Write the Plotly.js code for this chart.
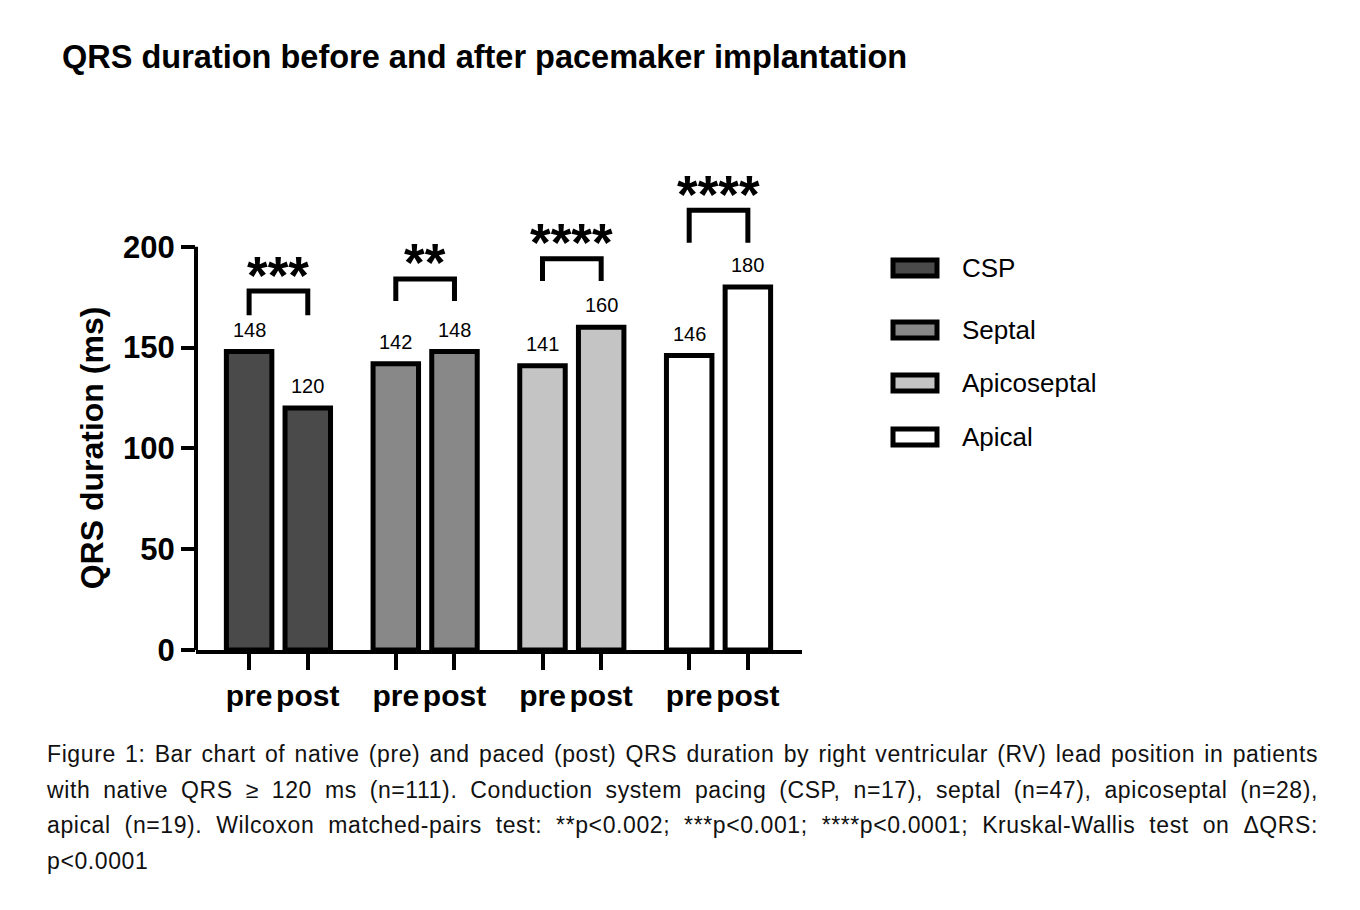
<!DOCTYPE html>
<html>
<head>
<meta charset="utf-8">
<script src="https://cdn.plot.ly/plotly-3.0.1.min.js"></script>
<style>
  body { margin: 0; background: #fff; }
  #wrap { position: relative; width: 1360px; height: 910px; }
  #chart { width: 1360px; height: 910px; }
  #caption {
    position: absolute; left: 47px; top: 737px; width: 1271px;
    font-family: "Liberation Sans", Arial, sans-serif; font-size: 23px;
    letter-spacing: 0.6px; line-height: 35.5px; color: #111;
  }
  #caption div { text-align: justify; text-align-last: justify; white-space: nowrap; }
  #caption div.last { text-align-last: left; }
</style>
</head>
<body>
<div id="wrap">
  <div id="chart"></div>
  <div id="caption">
    <div>Figure 1: Bar chart of native (pre) and paced (post) QRS duration by right ventricular (RV) lead position in patients</div>
    <div>with native QRS ≥ 120 ms (n=111). Conduction system pacing (CSP, n=17), septal (n=47), apicoseptal (n=28),</div>
    <div>apical (n=19). Wilcoxon matched-pairs test: **p&lt;0.002; ***p&lt;0.001; ****p&lt;0.0001; Kruskal-Wallis test on ΔQRS:</div>
    <div class="last">p&lt;0.0001</div>
  </div>
</div>
<script>
// values
const groups = ['CSP', 'Septal', 'Apicoseptal', 'Apical'];
const preQRS = [148, 142, 141, 146];
const postQRS = [120, 148, 160, 180];
const phaseLabels = ['pre', 'post'];
const sigLabels = ['***', '**', '****', '****'];
const fillColors = ['#4a4a4a', '#888888', '#c4c4c4', '#ffffff'];
// bracket levels in ms
const bracketTop = [178, 184, 194, 218];
const bracketFoot = [166, 173, 183, 202];

const FONT = '"Liberation Sans", Arial, Helvetica, sans-serif';
const OFFSET = 0.2;   // pre/post offset from group centre
const BARW = 0.31;

// plot box in pixels
const box = {l: 196, r: 802, t: 166, b: 650};
const px2x = px => (px - box.l) / (box.r - box.l);
const py2y = py => (box.b - py) / (box.b - box.t);

const traces = groups.map((g, i) => ({
  type: 'bar',
  name: g,
  x: [i - OFFSET, i + OFFSET],
  y: [preQRS[i], postQRS[i]],
  width: BARW,
  marker: {color: fillColors[i], line: {color: '#000', width: 5}},
  hoverinfo: 'y',
  showlegend: false
}));

const tickvals = [], ticktext = [];
groups.forEach((g, i) => {
  tickvals.push(i - OFFSET, i + OFFSET);
  ticktext.push(phaseLabels[0], phaseLabels[1]);
});

const shapes = [];
const annotations = [];

// y axis line only up to 200
shapes.push({type: 'line', xref: 'paper', yref: 'y', x0: 0, x1: 0, y0: 0, y1: 200,
  line: {color: '#000', width: 4}});

// value labels
groups.forEach((g, i) => {
  [preQRS[i], postQRS[i]].forEach((v, j) => {
    annotations.push({
      x: i + (j ? OFFSET : -OFFSET), y: v, xref: 'x', yref: 'y',
      text: String(v), showarrow: false, yanchor: 'bottom', yshift: 9,
      font: {family: FONT, size: 20, color: '#000'}
    });
  });
});

// significance brackets and stars
groups.forEach((g, i) => {
  const x0 = i - OFFSET, x1 = i + OFFSET;
  shapes.push({
    type: 'path', xref: 'x', yref: 'y',
    path: `M ${x0} ${bracketFoot[i]} L ${x0} ${bracketTop[i]} L ${x1} ${bracketTop[i]} L ${x1} ${bracketFoot[i]}`,
    line: {color: '#000', width: 5}
  });
  annotations.push({
    x: i, y: bracketTop[i], xref: 'x', yref: 'y', text: sigLabels[i],
    showarrow: false, yanchor: 'middle', yshift: 16,
    font: {family: FONT, size: 53, color: '#000', weight: 'bold'}
  });
});

// y axis title
annotations.push({
  xref: 'paper', yref: 'y', x: 0, y: 100, xshift: -104, xanchor: 'center', yanchor: 'middle',
  textangle: -90, text: 'QRS duration (ms)', showarrow: false,
  font: {family: FONT, size: 32, color: '#000', weight: 'bold'}
});

// legend drawn by hand
const legendY = [268, 330, 383, 437];
groups.forEach((g, i) => {
  shapes.push({
    type: 'rect', xref: 'paper', yref: 'paper',
    x0: px2x(893), x1: px2x(937), y0: py2y(legendY[i] + 8), y1: py2y(legendY[i] - 8),
    fillcolor: fillColors[i], line: {color: '#000', width: 5}
  });
  annotations.push({
    xref: 'paper', yref: 'paper', x: px2x(960), y: py2y(legendY[i]),
    xanchor: 'left', yanchor: 'middle', text: g, showarrow: false,
    font: {family: FONT, size: 26, color: '#000'}
  });
});

const layout = {
  width: 1360, height: 910,
  margin: {l: box.l, r: 1360 - box.r, t: box.t, b: 910 - box.b, pad: 0},
  paper_bgcolor: '#fff', plot_bgcolor: '#fff',
  title: {
    text: 'QRS duration before and after pacemaker implantation',
    xref: 'container', yref: 'container', x: 62 / 1360, xanchor: 'left',
    y: 1 - 57 / 910, yanchor: 'middle',
    font: {family: FONT, size: 32.5, color: '#000', weight: 'bold'}
  },
  showlegend: false,
  xaxis: {
    range: [-0.562, 3.569], tickvals: tickvals, ticktext: ticktext,
    showline: true, linecolor: '#000', linewidth: 4,
    ticks: 'outside', ticklen: 16, tickwidth: 4, tickcolor: '#000',
    showgrid: false, zeroline: false, fixedrange: true,
    tickfont: {family: FONT, size: 30, color: '#000', weight: 'bold'}
  },
  yaxis: {
    range: [0, 240], tickvals: [0, 50, 100, 150, 200],
    showline: false, ticks: 'outside', ticklen: 14, tickwidth: 4, tickcolor: '#000',
    showgrid: false, zeroline: false, fixedrange: true,
    tickfont: {family: FONT, size: 31, color: '#000', weight: 'bold'}
  },
  shapes: shapes,
  annotations: annotations
};

Plotly.newPlot('chart', traces, layout, {displayModeBar: false, staticPlot: true});
</script>
</body>
</html>
